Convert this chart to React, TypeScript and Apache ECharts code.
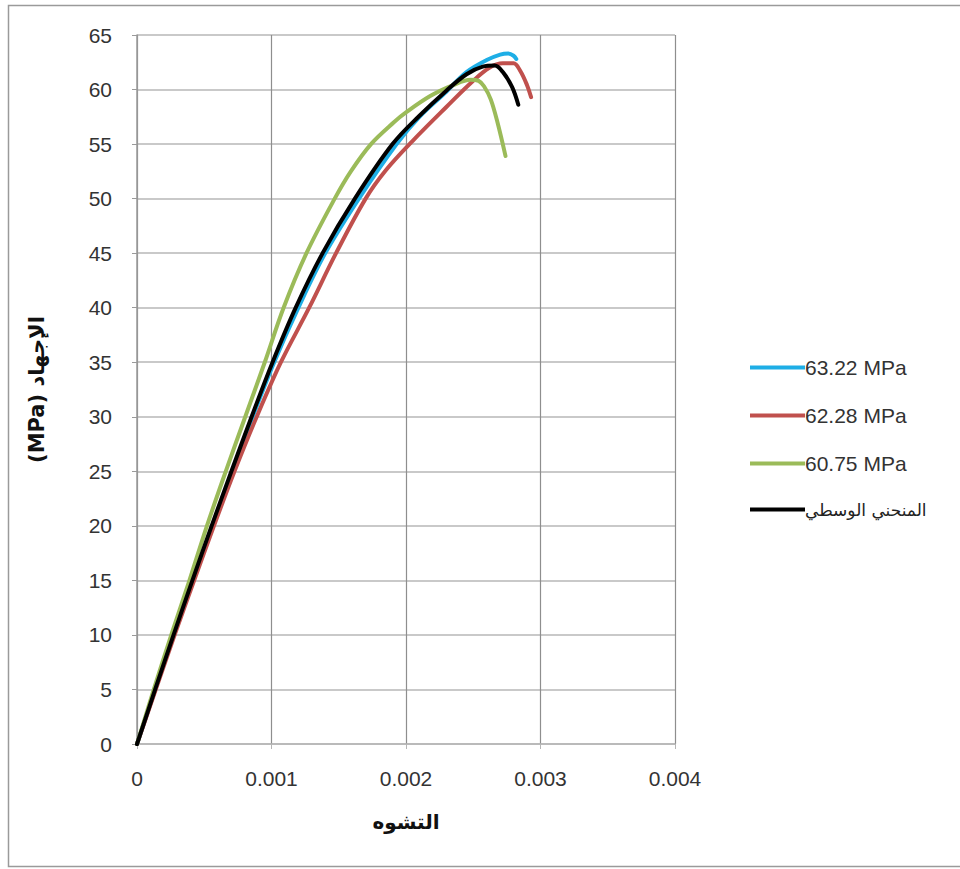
import React, { useEffect, useRef } from "react";
import * as echarts from "echarts";

// Stress–strain curves: strain (x) against stress in MPa (y)
const seriesNames = ["63.22 MPa", "62.28 MPa", "60.75 MPa", "المنحني الوسطي"];

const curve6322: [number, number][] = [
  [0, 0], [0.000135, 5], [0.000274, 10], [0.000416, 15], [0.00056, 20], [0.00071, 25],
  [0.00086, 30], [0.00102, 35], [0.0012, 40], [0.0014, 45], [0.00165, 50], [0.00193, 55],
  [0.0021, 57.5], [0.0023, 59.8], [0.00245, 61.6], [0.0026, 62.7], [0.0027, 63.2],
  [0.00276, 63.3], [0.0028, 63.1], [0.00282, 62.8],
];

const curve6228: [number, number][] = [
  [0, 0], [0.00014, 5], [0.00028, 10], [0.000425, 15], [0.000572, 20], [0.000725, 25],
  [0.00089, 30], [0.00107, 35], [0.00128, 40], [0.00148, 45], [0.0017, 50], [0.00185, 52.6],
  [0.00205, 55.3], [0.0023, 58.4], [0.0025, 60.8], [0.00262, 62.0], [0.00272, 62.4],
  [0.0028, 62.4], [0.00285, 61.7], [0.0029, 60.4], [0.00293, 59.3],
];

const curve6075: [number, number][] = [
  [0, 0], [0.000125, 5], [0.000255, 10], [0.00039, 15], [0.00052, 20], [0.00066, 25],
  [0.000805, 30], [0.00095, 35], [0.00109, 40], [0.00126, 45], [0.00147, 50], [0.00159, 52.5],
  [0.00174, 55], [0.00191, 57], [0.002, 57.9], [0.00218, 59.4], [0.00235, 60.4],
  [0.00248, 60.9], [0.00254, 60.8], [0.00258, 60.3], [0.00263, 59.1], [0.00268, 57.0],
  [0.00274, 53.9],
];

const curveMean: [number, number][] = [
  [0, 0], [0.000135, 5], [0.000272, 10], [0.000412, 15], [0.000555, 20], [0.000702, 25],
  [0.000852, 30], [0.001008, 35], [0.00118, 40], [0.00138, 45], [0.00162, 50], [0.0019, 55],
  [0.0021, 57.6], [0.0023, 59.9], [0.00245, 61.4], [0.00257, 62.1], [0.00266, 62.2],
  [0.00272, 61.6], [0.00279, 60.2], [0.002835, 58.6],
];

const xTitle = "التشوه";
const yTitle = "(MPa) الإجهاد";

export default function App() {
  const ref = useRef<HTMLDivElement>(null);

  useEffect(() => {
    if (!ref.current) return;
    const chart = echarts.init(ref.current, null, { renderer: "svg" });
    const font = "'Liberation Sans', Arial, sans-serif";
    const arabicFont = "'DejaVu Sans', 'Liberation Sans', sans-serif";

    const lineSeries = (name: string, data: [number, number][], color: string, z: number) => ({
      name,
      type: "line",
      data,
      smooth: 0.35,
      showSymbol: false,
      symbol: "none",
      z,
      lineStyle: { color, width: 4, cap: "round", join: "round" },
      itemStyle: { color },
    });

    chart.setOption({
      animation: false,
      backgroundColor: "#ffffff",
      grid: { left: 137, top: 35, right: 285, bottom: 125, containLabel: false },
      graphic: [
        {
          type: "rect",
          shape: { x: 8.5, y: 5.5, width: 1000, height: 861 },
          style: { fill: "none", stroke: "#9a9a9a", lineWidth: 1.5 },
          silent: true,
        },
      ],
      legend: {
        orient: "vertical",
        left: 745,
        top: 352,
        icon: "rect",
        itemWidth: 55,
        itemHeight: 4,
        itemGap: 27,
        data: seriesNames,
        textStyle: {
          fontFamily: font,
          fontSize: 21,
          color: "#333",
          padding: [0, 0, 0, -5],
          rich: {
            ar: { fontFamily: arabicFont, fontSize: 17, color: "#222" },
          },
        },
        formatter: (n: string) => (n === seriesNames[3] ? `{ar|${n}}` : n),
      },
      xAxis: {
        type: "value",
        min: 0,
        max: 0.004,
        interval: 0.001,
        name: xTitle,
        nameLocation: "middle",
        nameGap: 68,
        nameTextStyle: { fontFamily: arabicFont, fontSize: 20, fontWeight: "bold", color: "#111" },
        axisLine: { show: true, lineStyle: { color: "#b5b5b5", width: 1.5 } },
        axisTick: { show: true, length: 5, lineStyle: { color: "#b5b5b5" } },
        axisLabel: {
          margin: 24,
          fontFamily: font,
          fontSize: 21,
          color: "#333",
          formatter: (v: number) => (v === 0 ? "0" : v.toFixed(3)),
        },
        splitLine: { show: true, lineStyle: { color: "#8e8e8e", width: 1.2 } },
      },
      yAxis: {
        type: "value",
        min: 0,
        max: 65,
        interval: 5,
        name: yTitle,
        nameLocation: "middle",
        nameRotate: 90,
        nameGap: 90,
        nameTextStyle: { fontFamily: arabicFont, fontSize: 21, fontWeight: "bold", color: "#111" },
        axisLine: { show: true, lineStyle: { color: "#9a9a9a", width: 1.5 } },
        axisTick: { show: true, length: 5, lineStyle: { color: "#9a9a9a" } },
        axisLabel: { margin: 25, fontFamily: font, fontSize: 21, color: "#333" },
        splitLine: { show: true, lineStyle: { color: "#c9c9c9", width: 2 } },
      },
      series: [
        lineSeries(seriesNames[0], curve6322, "#1EAEE6", 2),
        lineSeries(seriesNames[1], curve6228, "#C0504D", 3),
        lineSeries(seriesNames[2], curve6075, "#9BBB59", 4),
        lineSeries(seriesNames[3], curveMean, "#000000", 5),
      ],
    });

    return () => chart.dispose();
  }, []);

  return (
    <div
      ref={ref}
      style={{ position: "absolute", left: 0, top: 0, width: 960, height: 869, background: "#fff" }}
    />
  );
}
